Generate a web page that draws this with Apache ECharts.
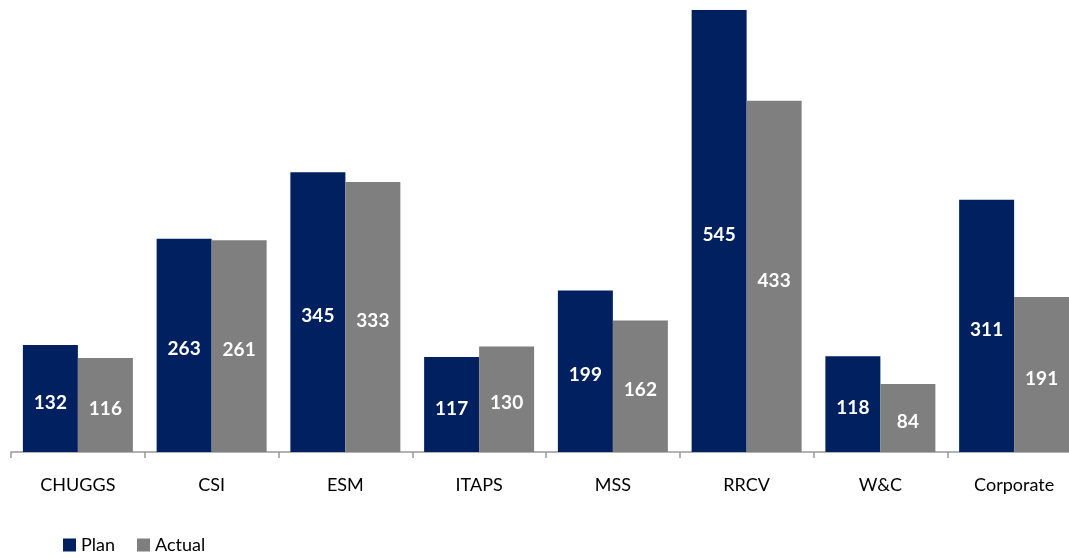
<!DOCTYPE html>
<html><head><meta charset="utf-8">
<script src="https://cdn.jsdelivr.net/npm/echarts@6/dist/echarts.min.js"></script>
<style>html,body{margin:0;padding:0;background:#fff;overflow:hidden}#c{width:1081px;height:558px}</style>
</head><body><div id="c"></div>
<script>
const categories = ['CHUGGS','CSI','ESM','ITAPS','MSS','RRCV','W&C','Corporate'];
const plan = [132,263,345,117,199,545,118,311];
const actual = [116,261,333,130,162,433,84,191];
const seriesNames = ['Plan','Actual'];

const chart = echarts.init(document.getElementById('c'));
const lbl = {show:true, position:'inside', offset:[0,4], color:'#fff', fontWeight:'bold', fontSize:19, fontFamily:'Lato'};
chart.setOption({
  animation:false,
  grid:{left:11, right:0, top:10, bottom:106},
  legend:{left:58, bottom:-1, itemWidth:13, itemHeight:13, itemGap:22, itemStyle:{borderWidth:0}, icon:'rect',
    textStyle:{fontFamily:'Lato', fontSize:18, color:'#000'}, data:seriesNames},
  xAxis:{type:'category', data:categories,
    axisLine:{lineStyle:{color:'#999', width:1.5}},
    axisTick:{show:true, length:6, lineStyle:{color:'#999', width:1.5}},
    axisLabel:{fontFamily:'Lato', fontSize:18, color:'#000', margin:24}},
  yAxis:{type:'value', min:0, max:545, show:false, splitLine:{show:false}},
  series:[
    {name:seriesNames[0], type:'bar', data:plan, barWidth:55, barGap:'0%', itemStyle:{color:'#002060'}, label:lbl},
    {name:seriesNames[1], type:'bar', data:actual, barWidth:55, barGap:'0%', itemStyle:{color:'#7f7f7f'}, label:lbl}
  ]
});
</script></body></html>
